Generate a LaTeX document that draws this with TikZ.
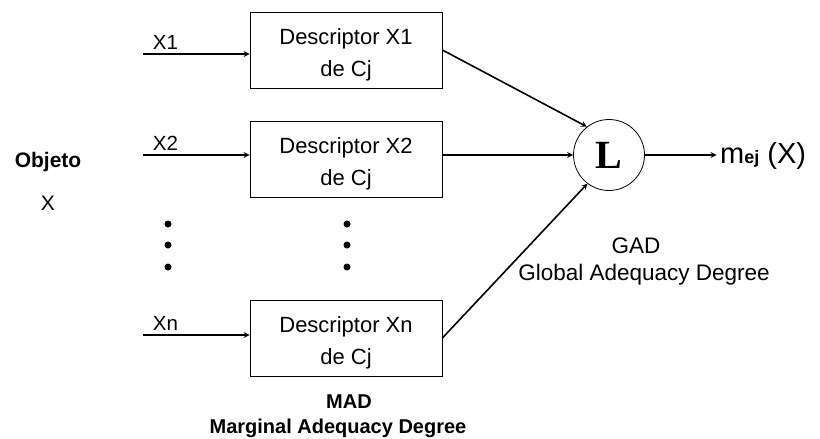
\documentclass[tikz,border=0pt]{standalone}
\usepackage{fontspec}
\setmainfont{Liberation Sans}
\newfontfamily\serifL{Liberation Serif}
\tikzset{%
desc/.style={draw,line width=0.8pt,minimum width=192pt,minimum height=76pt,align=center,font=\fontsize{22}{32}\selectfont},
inp/.style={line width=1.6pt,-stealth},
lab/.style={font=\fontsize{20.5}{24}\selectfont},
tag/.style={anchor=base,font=\fontsize{20}{24}\selectfont\bfseries},
gtag/.style={anchor=base,font=\fontsize{22.5}{26}\selectfont},
dot/.style={circle,fill=black,inner sep=0pt,minimum size=7pt}
}

\begin{document}
\begin{tikzpicture}[x=1pt,y=-1pt]
\useasboundingbox (0,0) rectangle (820,439);
%%
\node[anchor=base,font=\fontsize{21}{24}\selectfont\bfseries] (Obj)  at (48,167) {Objeto};
\node[anchor=base,font=\fontsize{21}{24}\selectfont]          (ObjX) at (48,210) {X};
%%
\foreach \name/\j/\k in {1/50/54, 2/159/155, n/338/335}
{
  \node[desc] (D\name) at (346,\j) {\rule{0pt}{25pt}Descriptor X\name\\de Cj};
  \coordinate (in\name) at (143,\k);
  \draw[inp] (in\name) -- node[lab,above,pos=0.21] {X\name} (in\name -| D\name.west);
}
%%
\foreach \i in {224,245,267}
{
  \node[dot] (dl\i) at (168,\i) {};
  \node[dot] (dr\i) at (347,\i) {};
}
%%
\node[circle,draw,line width=0.8pt,minimum size=71pt,inner sep=0pt,
      font=\serifL\bfseries\fontsize{40}{40}\selectfont] (L) at (609,155) {L};
\node[anchor=base west,inner sep=3.5pt,font=\fontsize{29}{32}\selectfont] (mej) at (716.5,163)
     {m{\fontsize{18}{20}\selectfont\bfseries ej} (X)};
%%
\draw[inp] (D1.east) -- (L.128);
\draw[inp] (L -| D2.east) -- (L);
\draw[inp] (Dn.east) -- (L.233);
\draw[inp] (L) -- (L -| mej.west);
%%
\node[gtag] (GAD)  at (636,253) {GAD};
\node[gtag] (GADl) at (644,280) {Global Adequacy Degree};
\node[tag]  (MAD)  at (349,408) {MAD};
\node[tag]  (MADl) at (338,433) {Marginal Adequacy Degree};
\end{tikzpicture}
\end{document}
